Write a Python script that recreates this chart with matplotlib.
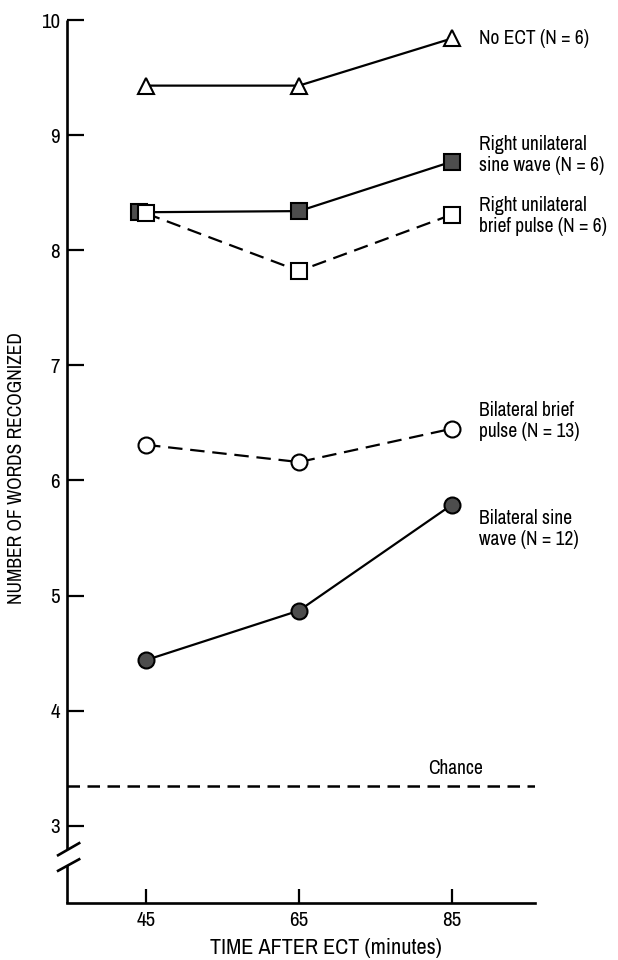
import matplotlib
matplotlib.use("Agg")
import matplotlib.pyplot as plt
import matplotlib.transforms as mtransforms
from matplotlib import font_manager

# pick a condensed sans if one is installed
cond_family = None
cond_stretch = 'normal'
for f in font_manager.fontManager.ttflist:
    if 'Narrow' in f.name or 'Condensed' in f.name:
        cond_family = f.name
        break
if cond_family is None:
    for f in font_manager.fontManager.ttflist:
        st = f.stretch
        if (isinstance(st, str) and 'condensed' in st) or (isinstance(st, int) and st < 500):
            cond_family = f.name
            cond_stretch = st
            break
if cond_family is None:
    cond_family = 'Liberation Sans'
plt.rcParams['font.family'] = [cond_family, 'DejaVu Sans']
plt.rcParams['font.stretch'] = cond_stretch

# ---- data ----
times = [45, 65, 85]
no_ect = [9.43, 9.43, 9.84]
ru_sine = [8.33, 8.34, 8.77]
ru_brief = [8.32, 7.82, 8.31]
bi_brief = [6.31, 6.16, 6.45]
bi_sine = [4.44, 4.87, 5.79]
chance = 3.35
ru_sine_x = [44.1, 65, 85]  # filled square drawn slightly left at 45

labels = {
    'no_ect': "No ECT (N = 6)",
    'ru_sine': "Right unilateral\nsine wave (N = 6)",
    'ru_brief': "Right unilateral\nbrief pulse (N = 6)",
    'bi_brief': "Bilateral brief\npulse (N = 13)",
    'bi_sine': "Bilateral sine\nwave (N = 12)",
}
xticks = [45, 65, 85]
yticks = [3, 4, 5, 6, 7, 8, 9, 10]
xlabel = "TIME AFTER ECT (minutes)"
ylabel = "NUMBER OF WORDS RECOGNIZED"

fig = plt.figure(figsize=(6.18, 9.6), dpi=100)
ax = fig.add_axes([67/618, 1-903/960, (535-67)/618, (903-20)/960])
ax.set_xlim(34.67, 95.85)
ax.set_ylim(2.33, 10)

fill = '#4d4d4d'
lw = 1.6
ms = 11.5
mew = 1.5
dash = (0, (6.5, 3.5))

ax.plot(times, no_ect, '-', color='black', lw=lw, marker='^', ms=ms, mfc='white', mec='black', mew=mew, zorder=3)
ax.plot(ru_sine_x, ru_sine, '-', color='black', lw=lw, marker='s', ms=ms, mfc=fill, mec='black', mew=mew, zorder=2)
ax.plot(times, ru_brief, color='black', lw=lw, ls=dash, marker='s', ms=ms, mfc='white', mec='black', mew=mew, zorder=3)
ax.plot(times, bi_brief, color='black', lw=lw, ls=dash, marker='o', ms=ms, mfc='white', mec='black', mew=mew, zorder=3)
ax.plot(times, bi_sine, '-', color='black', lw=lw, marker='o', ms=ms, mfc=fill, mec='black', mew=mew, zorder=3)

# chance line
ax.axhline(chance, color='black', lw=1.8, ls=(0, (5, 3)), zorder=2)
ax.text(85.5, chance + 0.07, "Chance", ha='center', va='bottom', fontsize=14)

# series labels
tx = 88.5
fs = 14
ls_ = 1.15
ax.text(tx, no_ect[2], labels['no_ect'], ha='left', va='center', fontsize=fs)
ax.text(tx, 8.83, labels['ru_sine'], ha='left', va='center', fontsize=fs, linespacing=ls_)
ax.text(tx, 8.30, labels['ru_brief'], ha='left', va='center', fontsize=fs, linespacing=ls_)
ax.text(tx, 6.52, labels['bi_brief'], ha='left', va='center', fontsize=fs, linespacing=ls_)
ax.text(tx, 5.58, labels['bi_sine'], ha='left', va='center', fontsize=fs, linespacing=ls_)

# axes styling
for s in ['top', 'right', 'left']:
    ax.spines[s].set_visible(False)
ax.spines['bottom'].set_linewidth(1.9)

ax.set_xticks(xticks)
ax.set_xticklabels([str(t) for t in xticks])
ax.set_yticks(yticks)
ax.set_yticklabels([str(t) for t in yticks])
ax.tick_params(axis='x', direction='in', length=10, width=1.6, pad=6, labelsize=15)
ax.tick_params(axis='y', direction='in', length=12, width=1.6, pad=5, labelsize=15)

# left axis with break
trans = mtransforms.blended_transform_factory(ax.transAxes, ax.transData)
ax.plot([0, 0], [2.80, 10], color='black', lw=1.9, transform=trans, clip_on=False, solid_capstyle='butt')
ax.plot([0, 0], [2.33, 2.66], color='black', lw=1.9, transform=trans, clip_on=False, solid_capstyle='butt')
ax.plot([-0.019, 0.026], [2.745, 2.85], color='black', lw=1.9, transform=trans, clip_on=False)
ax.plot([-0.019, 0.026], [2.61, 2.71], color='black', lw=1.9, transform=trans, clip_on=False)

fig.text(326/618, 1-948/960, xlabel, ha='center', va='center', fontsize=16)
fig.text(17/618, 1-468/960, ylabel, ha='center', va='center', rotation=90, fontsize=14)

fig.savefig('out.png', dpi=100, facecolor='white')
